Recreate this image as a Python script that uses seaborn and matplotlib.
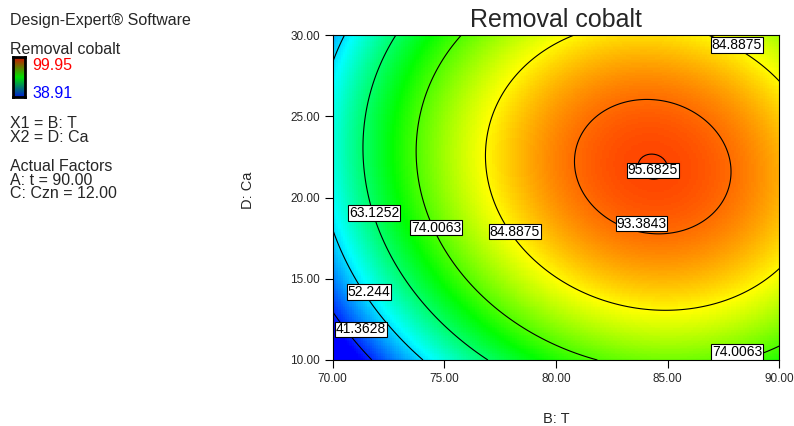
import numpy as np
import matplotlib
matplotlib.use("Agg")
import matplotlib.pyplot as plt
import seaborn as sns

# factor ranges (actual units)
t_range = [70.0, 90.0]      # B: T
ca_range = [10.0, 30.0]     # D: Ca

# final equation in terms of coded factors (estimated from the plot)
intercept = 91.40
coef_B = 17.36
coef_D = 6.40
coef_BD = -2.5
coef_B2 = -19.5
coef_D2 = -14.0

# contour levels shown on the chart
levels = [41.3628, 52.244, 63.1252, 74.0063, 84.8875, 93.3843, 95.6825]

# colour scale limits
z_low = 38.91
z_high = 99.95

x_ticks = [70, 75, 80, 85, 90]
y_ticks = [10, 15, 20, 25, 30]

sns.set_theme(style="white")
plt.rcParams["font.family"] = ["Liberation Sans", "DejaVu Sans"]

W, H = 794, 426
fig = plt.figure(figsize=(W / 100, H / 100), dpi=100)
ax = fig.add_axes([332.7 / W, 1 - 360 / H, 446.7 / W, 325 / H])

# evaluate the response surface
T = np.linspace(t_range[0], t_range[1], 201)
CA = np.linspace(ca_range[0], ca_range[1], 201)
TT, CC = np.meshgrid(T, CA)
B = (TT - 80) / 10
D = (CC - 20) / 10
Z = (intercept + coef_B * B + coef_D * D + coef_BD * B * D
     + coef_B2 * B ** 2 + coef_D2 * D ** 2)

cmap = sns.blend_palette(["#0000ff", "#00ffff", "#00ff00", "#ffff00", "#ff0000"],
                         as_cmap=True)
ax.pcolormesh(TT, CC, Z, cmap=cmap, vmin=z_low, vmax=z_high, shading="auto")
cs = ax.contour(TT, CC, Z, levels=levels, colors="black", linewidths=0.8)

# where the value boxes sit (T, Ca)
label_pos = [(84.33, 21.67), (83.83, 18.39), (88.10, 29.40), (78.16, 17.90),
             (74.62, 18.15), (88.10, 10.49), (71.86, 19.05), (71.63, 14.17),
             (71.27, 11.88)]
labels = ax.clabel(cs, fmt="%g", manual=label_pos, inline=False, fontsize=10)
for txt, pos in zip(labels, label_pos):
    txt.set_position(pos)
    txt.set_rotation(0)
    txt.set_color("black")
    txt.set_zorder(5)
    txt.set_clip_on(True)
    txt.set_bbox(dict(boxstyle="square,pad=0.06", fc="white", ec="black", lw=0.8))

ax.set_xlim(t_range)
ax.set_ylim(ca_range)
ax.set_xticks(x_ticks)
ax.set_yticks(y_ticks)
ax.set_xticklabels([f"{v:.2f}" for v in x_ticks])
ax.set_yticklabels([f"{v:.2f}" for v in y_ticks])
ax.tick_params(axis="both", direction="out", length=6, width=0.8,
               labelsize=8.5, color="black", left=True, bottom=True, pad=3)
for sp in ax.spines.values():
    sp.set_color("black")
    sp.set_linewidth(0.8)

ax.set_title("Removal cobalt", fontsize=18, pad=6)
fig.text(556 / W, 1 - 419 / H, "B: T", fontsize=10.5, ha="center", va="center")
fig.text(248.5 / W, 1 - 190 / H, "D: Ca", fontsize=10.5, ha="center", va="center",
         rotation=90)

# left side legend text
fs = 11.5
fig.text(10 / W, 1 - 20.5 / H, "Design-Expert® Software", fontsize=fs, va="center")
fig.text(10 / W, 1 - 49.5 / H, "Removal cobalt", fontsize=fs, va="center")
fig.text(32 / W, 1 - 65 / H, f"{z_high:.2f}", fontsize=fs, va="center", color="red")
fig.text(32 / W, 1 - 94 / H, f"{z_low:.2f}", fontsize=fs, va="center", color="blue")
fig.text(10 / W, 1 - 123 / H, "X1 = B: T", fontsize=fs, va="center")
fig.text(10 / W, 1 - 137 / H, "X2 = D: Ca", fontsize=fs, va="center")
fig.text(10 / W, 1 - 166 / H, "Actual Factors", fontsize=fs, va="center")
fig.text(10 / W, 1 - 180.5 / H, "A: t = 90.00", fontsize=fs, va="center")
fig.text(10 / W, 1 - 194 / H, "C: Czn = 12.00", fontsize=fs, va="center")

# small colour key
cax = fig.add_axes([13 / W, 1 - 97 / H, 12 / W, 40 / H])
key_cmap = sns.blend_palette(["#0020d0", "#00e000", "#d01000"], as_cmap=True)
cax.imshow(np.linspace(0, 1, 100).reshape(-1, 1), cmap=key_cmap, aspect="auto",
           origin="lower")
cax.set_xticks([])
cax.set_yticks([])
for sp in cax.spines.values():
    sp.set_color("black")
    sp.set_linewidth(2)

fig.savefig("out.png", dpi=100)
